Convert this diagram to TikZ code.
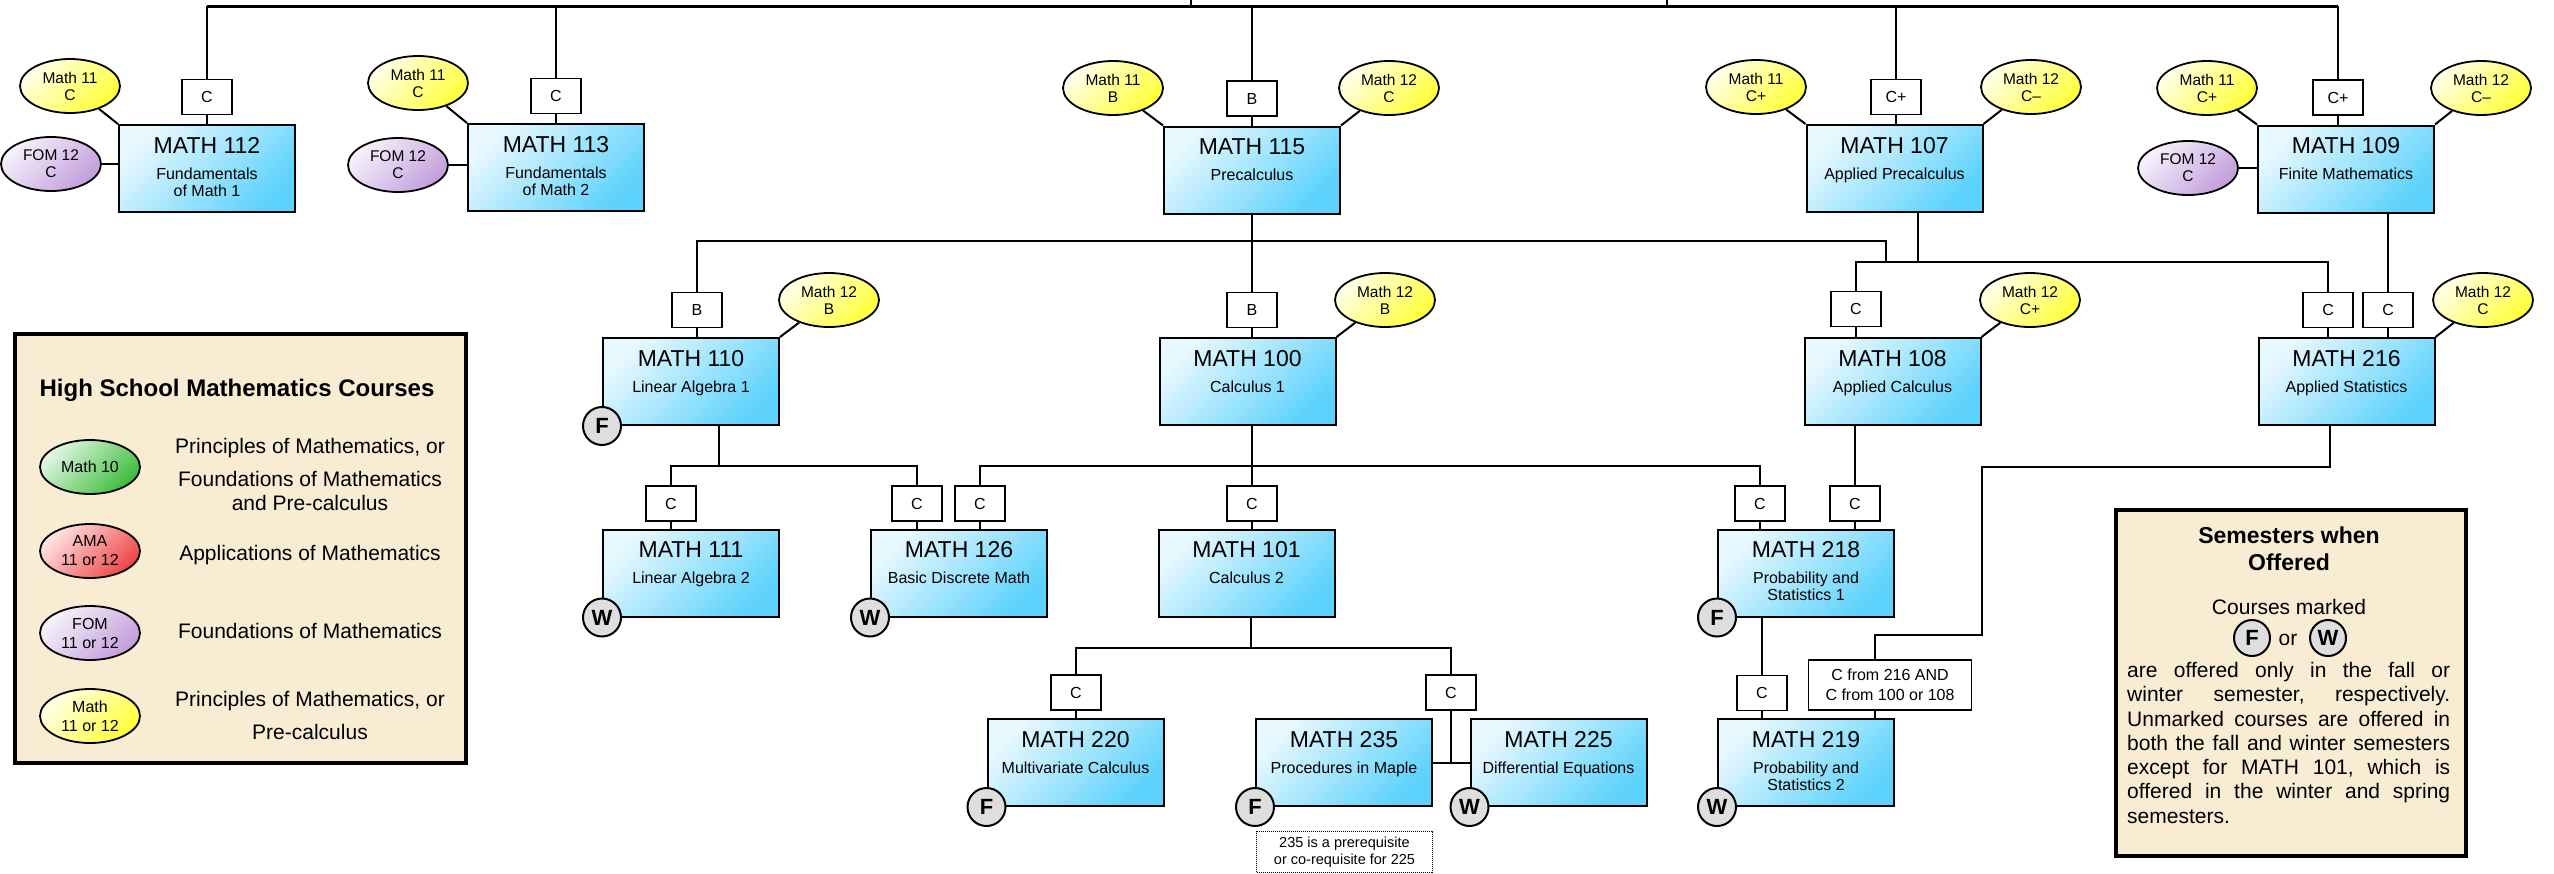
\documentclass[tikz,border=0pt]{standalone}
\usepackage{fontspec}
\setmainfont{Liberation Sans}
\usetikzlibrary{shapes.geometric}
\definecolor{cyanL}{HTML}{E8F8FF}
\definecolor{cyanD}{HTML}{5CD2FC}
\definecolor{yelL}{HTML}{FFFFE8}
\definecolor{yelD}{HTML}{FFFF38}
\definecolor{fomL}{HTML}{F7F2FB}
\definecolor{fomD}{HTML}{C29EDB}
\definecolor{grnL}{HTML}{E4F7E4}
\definecolor{grnD}{HTML}{3CBD3C}
\definecolor{redL}{HTML}{FFE4E4}
\definecolor{redD}{HTML}{EE4646}
\definecolor{semG}{HTML}{DEDEDE}
\definecolor{parch}{HTML}{F8EDD2}
\newcommand\fsz[2]{\fontsize{#1}{#2}\selectfont}
\newcommand\crsA[5]{%
  \node[course] (#1) at (#2,#3) {};
  \node[ctext,font=\fsz{23}{26}] (#1t) at ([yshift=-29pt]#1.north) {#4};
  \node[ctext,font=\fsz{16}{18}] (#1s) at ([yshift=-55pt]#1.north) {#5};
}
\newcommand\crsB[6]{%
  \crsA{#1}{#2}{#3}{#4}{#5}%
  \node[ctext,font=\fsz{16}{18}] (#1u) at ([yshift=-72pt]#1.north) {#6};
}
\begin{document}
\begin{tikzpicture}[x=1pt,y=-1pt,
  course/.style={draw,line width=2pt,minimum width=176pt,minimum height=87pt,inner sep=0pt,
     top color=cyanL,bottom color=cyanD,shading angle=45},
  ctext/.style={anchor=base,inner sep=0pt},
  grade/.style={draw,line width=1.8pt,fill=white,minimum width=50pt,minimum height=35pt,
     inner sep=0pt,align=center,font=\fsz{16}{19.5}},
  hs/.style={ellipse,draw,line width=1.8pt,minimum width=100pt,minimum height=54pt,
     inner sep=0pt,align=center,font=\fsz{15.5}{17}},
  yel/.style={hs,top color=yelL,bottom color=yelD,shading angle=45},
  fom/.style={hs,top color=fomL,bottom color=fomD,shading angle=45},
  grn/.style={hs,top color=grnL,bottom color=grnD,shading angle=45,font=\fsz{16}{19}},
  red/.style={hs,top color=redL,bottom color=redD,shading angle=45,font=\fsz{16}{19}},
  sem/.style={circle,draw,line width=2pt,fill=semG,minimum size=38pt,inner sep=0pt,
     font=\fsz{22}{22}\bfseries},
  conn/.style={line width=2pt},
  thin/.style={line width=1.4pt},
  panel/.style={draw,line width=4pt,fill=parch,anchor=north west,inner sep=0pt},
  ltext/.style={anchor=base,inner sep=0pt,font=\fsz{21}{24}},
]
\useasboundingbox (0,0) rectangle (2554,873);
\fill[white] (0,0) rectangle (2554,873);

% ---------------- legend ----------------
\node[panel,minimum width=451pt,minimum height=429pt] (legend) at (13,332) {};
\node[anchor=base,inner sep=0pt,font=\fsz{24}{26}\bfseries] (legt) at (237,396) {High School Mathematics Courses};
\node[grn] (lg1) at (90,467) {Math 10};
\node[red] (lg2) at (90,551) {AMA\\11 or 12};
\node[fom,font=\fsz{16}{19}] (lg3) at (90,633) {FOM\\11 or 12};
\node[yel,font=\fsz{16}{19}] (lg4) at (90,716) {Math\\11 or 12};
\node[ltext] (ld1) at (310,453.5) {Principles of Mathematics, or};
\node[ltext] (ld2) at (310,486.5) {Foundations of Mathematics};
\node[ltext] (ld3) at (310,510.5) {and Pre-calculus};
\node[ltext] (ld4) at (310,560.5) {Applications of Mathematics};
\node[ltext] (ld5) at (310,638.5) {Foundations of Mathematics};
\node[ltext] (ld6) at (310,706.5) {Principles of Mathematics, or};
\node[ltext] (ld7) at (310,739.5) {Pre-calculus};

% ---------------- semesters panel ----------------
\node[panel,minimum width=350pt,minimum height=346pt] (semb) at (2114,508) {};
\node[anchor=base,inner sep=0pt,font=\fsz{23}{26}\bfseries] (st1) at (2289,543) {Semesters when};
\node[anchor=base,inner sep=0pt,font=\fsz{23}{26}\bfseries] (st2) at (2289,570) {Offered};
\node[ltext] (st3) at (2289,614.5) {Courses marked};
\node[sem,minimum size=36pt] (kF) at (2252,638) {F};
\node[ltext] (kor) at (2288,645) {or};
\node[sem,minimum size=36pt] (kW) at (2328,638) {W};
\node[anchor=north west,inner sep=0pt,text width=323pt,align=justify,font=\fsz{21}{24.3}] (stp) at (2127,662)
 {\frenchspacing\tolerance=10000\hyphenpenalty=10000
 are offered only in the fall or\linebreak
 winter semester, respectively.\linebreak
 Unmarked courses are offered in\linebreak
 both the fall and winter semesters\linebreak
 except for MATH 101, which is\linebreak
 offered in the winter and spring\linebreak
 semesters.};

% ---------------- courses ----------------
\crsB{m112}{207}{168.5}{MATH 112}{Fundamentals}{of Math 1}
\crsB{m113}{556}{167.5}{MATH 113}{Fundamentals}{of Math 2}
\crsA{m115}{1252}{170}{MATH 115}{Precalculus}
\crsA{m107}{1894.5}{168.5}{MATH 107}{Applied Precalculus}
\crsA{m109}{2346}{169}{MATH 109}{Finite Mathematics}
\crsA{m110}{691}{381.5}{MATH 110}{Linear Algebra 1}
\crsA{m100}{1247.5}{381.5}{MATH 100}{Calculus 1}
\crsA{m108}{1892.5}{381.5}{MATH 108}{Applied Calculus}
\crsA{m216}{2346.5}{381.5}{MATH 216}{Applied Statistics}
\crsA{m111}{691}{573}{MATH 111}{Linear Algebra 2}
\crsA{m126}{959}{573}{MATH 126}{Basic Discrete Math}
\crsA{m101}{1246.5}{573}{MATH 101}{Calculus 2}
\crsB{m218}{1806}{573}{MATH 218}{Probability and}{Statistics 1}
\crsA{m220}{1075.5}{762.5}{MATH 220}{Multivariate Calculus}
\crsA{m235}{1344}{762.5}{MATH 235}{Procedures in Maple}
\crsA{m225}{1558.5}{762.5}{MATH 225}{Differential Equations}
\crsB{m219}{1806}{762.5}{MATH 219}{Probability and}{Statistics 2}

% ---------------- grade boxes ----------------
\node[grade] (g112) at (207,97) {C};
\node[grade] (g113) at (556,96) {C};
\node[grade] (g115) at (1252,98.5) {B};
\node[grade] (g107) at (1896,97) {C+};
\node[grade] (g109) at (2338,97.5) {C+};
\node[grade] (g110) at (697,310) {B};
\node[grade] (g100) at (1252,310) {B};
\node[grade] (g108) at (1856,309) {C};
\node[grade] (g216a) at (2328,310) {C};
\node[grade] (g216b) at (2388,310) {C};
\node[grade] (g111) at (671,503.5) {C};
\node[grade] (g126a) at (917,503.5) {C};
\node[grade] (g126b) at (980,503.5) {C};
\node[grade] (g101) at (1252,503.5) {C};
\node[grade] (g218a) at (1760,503.5) {C};
\node[grade] (g218b) at (1855,503.5) {C};
\node[grade] (g220) at (1076,692.5) {C};
\node[grade] (g225) at (1451,692.5) {C};
\node[grade] (g219) at (1762,693) {C};
\node[grade,minimum width=163pt,minimum height=50pt] (g219b) at (1890,685) {C from 216 AND\\C from 100 or 108};

% ---------------- high school ellipses ----------------
\node[yel] (e112a) at (70,86) {Math 11\\C};
\node[fom] (e112b) at (51,164) {FOM 12\\C};
\node[yel] (e113a) at (418,83) {Math 11\\C};
\node[fom] (e113b) at (398,165) {FOM 12\\C};
\node[yel] (e115a) at (1113,88) {Math 11\\B};
\node[yel] (e115b) at (1389,88) {Math 12\\C};
\node[yel] (e107a) at (1756,87) {Math 11\\C+};
\node[yel] (e107b) at (2031,87) {Math 12\\C--};
\node[yel] (e109a) at (2207,88) {Math 11\\C+};
\node[yel] (e109b) at (2481,88) {Math 12\\C--};
\node[fom] (e109c) at (2188,168) {FOM 12\\C};
\node[yel] (e110) at (829,300) {Math 12\\B};
\node[yel] (e100) at (1385,300) {Math 12\\B};
\node[yel] (e108) at (2030,300) {Math 12\\C+};
\node[yel] (e216) at (2483,300) {Math 12\\C};

% ---------------- note ----------------
\node[draw,line width=1pt,dash pattern=on 1pt off 1pt,anchor=north west,minimum width=176pt,minimum height=41pt,
  inner sep=0pt,align=center,font=\fsz{14.5}{17}] (note) at (1256,831) {235 is a prerequisite\\or co-requisite for 225};

% ---------------- junction coordinates ----------------
\coordinate (top) at (0,6);
\coordinate (r2) at (1886,241);
\coordinate (j1) at (1918,262);
\coordinate (j110) at (719,466);
\coordinate (p1) at (2330,467);
\coordinate (p2) at (1982,635);
\coordinate (k) at (1875,635);
\coordinate (j101) at (1251,648);

% ---------------- connectors ----------------
\draw[line width=3pt] (g112.north |- top) -- (g109.north |- top);
\draw[thin] (1191,0) -- (1191,6);
\draw[thin] (1667,0) -- (1667,6);
\foreach \g in {g112,g113,g115,g109} \draw[thin] (\g.north |- top) -- (\g.north);
\draw[thin] (g107.north |- top) -- (g107.north);
\foreach \g/\m in {g112/m112,g113/m113,g115/m115,g107/m107,g109/m109}
  \draw[conn] (\g.south) -- (\g.south |- \m.north);
\foreach \e/\m in {e112a/m112,e113a/m113,e115a/m115,e107a/m107,e109a/m109}
  \draw[conn] (\e) -- (\m.north west);
\foreach \e/\m in {e115b/m115,e107b/m107,e109b/m109,e110/m110,e100/m100,e108/m108,e216/m216}
  \draw[conn] (\e) -- (\m.north east);
\foreach \e/\m in {e112b/m112,e113b/m113,e109c/m109}
  \draw[conn] (\e.east) -- (\e.east -| \m.west);

% row 2
\draw[conn] (m115.south -| g100) -- (g100.north);
\draw[conn] (g110.north) -- (g110.north |- r2) -- (r2) -- (r2 |- j1);
\draw[conn] (m107.south -| j1) -- (j1);
\draw[conn] (g108.north) -- (g108.north |- j1) -- (g216a.north |- j1) -- (g216a.north);
\draw[conn] (m109.south -| g216b) -- (g216b.north);
\foreach \g/\m in {g110/m110,g100/m100,g108/m108,g216a/m216,g216b/m216}
  \draw[conn] (\g.south) -- (\g.south |- \m.north);

% row 3
\draw[conn] (m110.south -| j110) -- (j110);
\draw[conn] (g111.north) -- (g111.north |- j110) -- (g126a.north |- j110) -- (g126a.north);
\draw[conn] (m100.south -| g101) -- (g101.north);
\draw[conn] (g126b.north) -- (g126b.north |- j110) -- (g218a.north |- j110) -- (g218a.north);
\draw[conn] (m108.south -| g218b) -- (g218b.north);
\draw[conn] (m216.south -| p1) -- (p1) -- (p1 -| p2) -- (p2) -- (k) -- (k |- g219b.north);
\foreach \g/\m in {g111/m111,g126a/m126,g126b/m126,g101/m101,g218a/m218,g218b/m218}
  \draw[conn] (\g.south) -- (\g.south |- \m.north);

% row 4
\draw[conn] (m101.south -| j101) -- (j101);
\draw[conn] (g220.north) -- (g220.north |- j101) -- (g225.north |- j101) -- (g225.north);
\draw[conn] (g225.south) -- (g225.south |- m235.east);
\draw[conn] (m235.east) -- (m225.west);
\draw[conn] (g220.south) -- (g220.south |- m220.north);
\draw[conn] (m218.south -| g219) -- (g219.north);
\draw[conn] (g219.south) -- (g219.south |- m219.north);
\draw[conn] (g219b.south -| k) -- (k |- m219.north);

% ---------------- semester markers ----------------
\node[sem] (s110) at (m110.south west) {F};
\node[sem] (s111) at (m111.south west) {W};
\node[sem] (s126) at (m126.south west) {W};
\node[sem] (s218) at (m218.south west) {F};
\node[sem] (s219) at (m219.south west) {W};
\node[sem] (s220) at (m220.south west) {F};
\node[sem] (s235) at (m235.south west) {F};
\node[sem] (s225) at (m225.south west) {W};
\end{tikzpicture}
\end{document}
